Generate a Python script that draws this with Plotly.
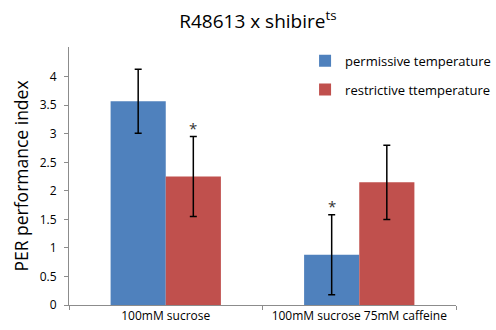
import plotly.graph_objects as go

categories = ["100mM sucrose", "100mM sucrose 75mM caffeine"]
permissive = [3.57, 0.88]
permissive_err = [0.56, 0.70]
restrictive = [2.25, 2.15]
restrictive_err = [0.70, 0.65]
series_names = ["permissive temperature", "restrictive ttemperature"]
significant = {"restrictive": [True, False], "permissive": [False, True]}
y_ticks = [0, 0.5, 1, 1.5, 2, 2.5, 3, 3.5, 4]
y_tick_labels = ["0", "0.5", "1", "1.5", "2", "2.5", "3", "3.5", "4"]

FONT = "Open Sans"
err_style = dict(type="data", visible=True, color="black", thickness=1.5, width=3.5)

fig = go.Figure()
fig.add_trace(go.Bar(
    x=categories, y=permissive, name=series_names[0], legendgroup="a",
    marker=dict(color="#4f81bd", line=dict(width=0)),
    error_y=dict(array=permissive_err, **err_style),
))
fig.add_trace(go.Bar(
    x=categories, y=restrictive, name=series_names[1], legendgroup="b",
    marker=dict(color="#c0504d", line=dict(width=0)),
    error_y=dict(array=restrictive_err, **err_style),
))

annotations = []
for i, cat in enumerate(categories):
    if significant["permissive"][i]:
        annotations.append(dict(x=cat, y=permissive[i] + permissive_err[i], xref="x", yref="y",
                                text="*", showarrow=False, xshift=-27.5, yshift=9,
                                font=dict(family=FONT, size=15, color="#333")))
    if significant["restrictive"][i]:
        annotations.append(dict(x=cat, y=restrictive[i] + restrictive_err[i], xref="x", yref="y",
                                text="*", showarrow=False, xshift=27.5, yshift=9,
                                font=dict(family=FONT, size=15, color="#333")))

fig.update_layout(
    width=496, height=330,
    margin=dict(l=69, r=40, t=47, b=25, autoexpand=False),
    paper_bgcolor="white", plot_bgcolor="white",
    barmode="group", bargap=0.43, bargroupgap=0,
    font=dict(family=FONT, size=12, color="black"),
    title=dict(text="R48613 x shibire<sup>ts</sup>", x=0.52, xanchor="center",
               y=0.935, yanchor="middle",
               font=dict(family=FONT, size=19, color="black")),
    legend=dict(x=0.61, y=1.005, xanchor="left", yanchor="top",
                font=dict(family=FONT, size=13), bgcolor="rgba(0,0,0,0)",
                traceorder="grouped", tracegroupgap=9, itemwidth=30),
    annotations=annotations,
    xaxis=dict(showline=True, linecolor="#8c8c8c", linewidth=1,
               ticks="outside", tickson="boundaries", ticklen=4, tickcolor="#8c8c8c",
               tickfont=dict(family=FONT, size=12), showgrid=False),
    yaxis=dict(range=[0, 4.52], tickvals=y_ticks, ticktext=y_tick_labels,
               showline=True, linecolor="#8c8c8c", linewidth=1,
               ticks="outside", ticklen=4, tickcolor="#8c8c8c",
               showgrid=False, zeroline=False, ticklabelstandoff=5,
               tickfont=dict(family=FONT, size=12),
               title=dict(text="PER performance index", font=dict(family=FONT, size=17.5), standoff=6)),
)

fig.write_html("out.html")
